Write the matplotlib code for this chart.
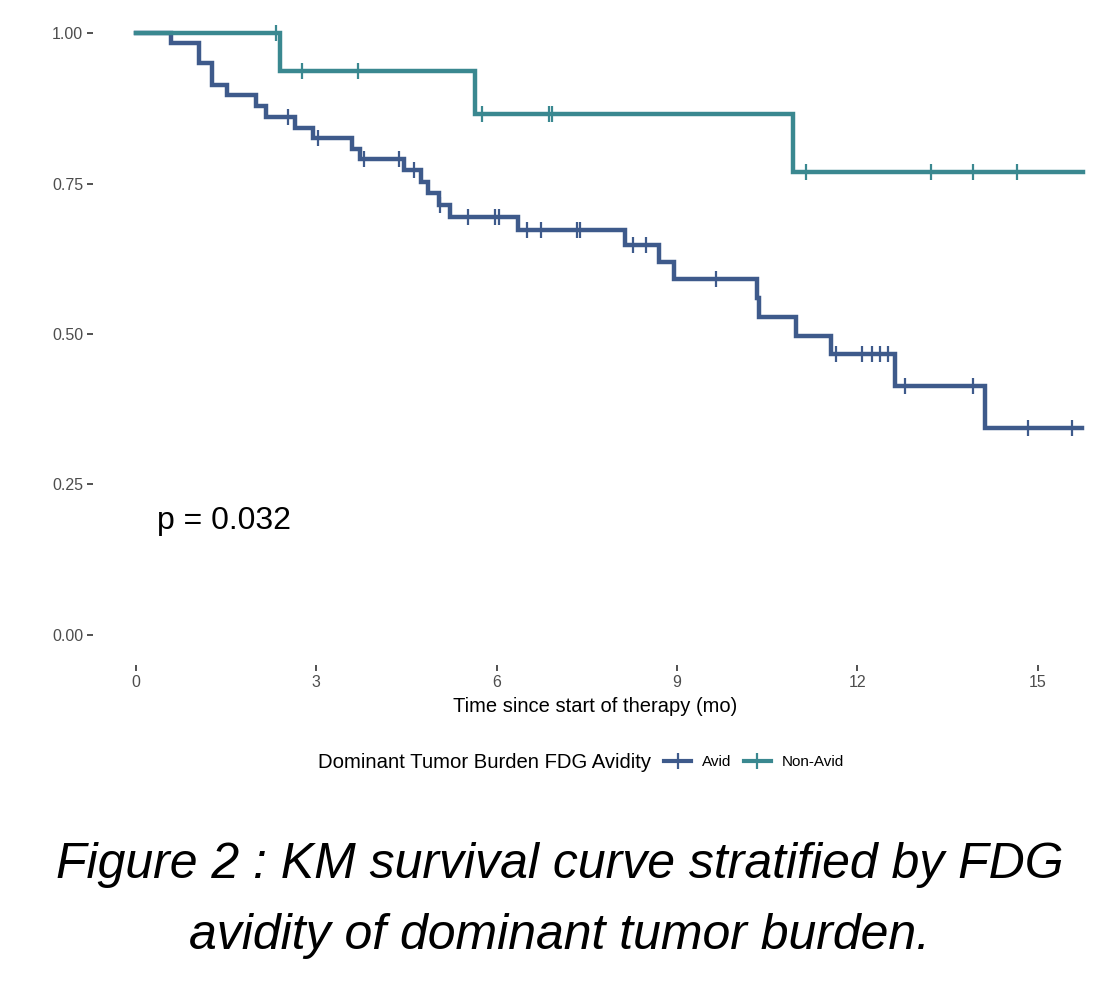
import numpy as np
import matplotlib.pyplot as plt
from matplotlib.lines import Line2D

plt.rcParams['font.family'] = ['Liberation Sans', 'DejaVu Sans']

# step curves: time of each drop (months) and survival after it
avid_t = [0, 0.59, 1.04, 1.26, 1.51, 2.00, 2.16, 2.64, 2.94, 3.60, 3.73, 4.46, 4.74,
          4.86, 5.04, 5.23, 6.36, 8.13, 8.70, 8.94, 10.33, 10.37, 10.97, 11.56, 12.62,
          14.12, 15.73]
avid_s = [1.0, 0.983, 0.950, 0.914, 0.897, 0.879, 0.861, 0.843, 0.826, 0.808, 0.791,
          0.772, 0.753, 0.734, 0.714, 0.694, 0.673, 0.648, 0.619, 0.591, 0.560, 0.529,
          0.497, 0.466, 0.414, 0.344, 0.344]
avid_cens = [2.53, 3.03, 3.80, 4.38, 4.63, 5.06, 5.53, 5.97, 6.03, 6.50, 6.74, 7.34,
             7.38, 8.27, 8.49, 9.65, 11.65, 12.07, 12.24, 12.37, 12.50, 12.79, 13.92,
             14.83, 15.56]

nonavid_t = [0, 2.40, 5.64, 10.93, 15.75]
nonavid_s = [1.0, 0.9375, 0.865, 0.769, 0.769]
nonavid_cens = [2.33, 2.76, 3.69, 5.75, 6.87, 6.92, 11.14, 13.22, 13.92, 14.65]

c_avid = '#3E5A8B'
c_non = '#3A8890'

fig = plt.figure(figsize=(10.98, 10), dpi=100)
ax = fig.add_axes([0.0847, 0.335, 0.9153, 0.662])

for t, s, cens, col in [(avid_t, avid_s, avid_cens, c_avid),
                        (nonavid_t, nonavid_s, nonavid_cens, c_non)]:
    ax.step(t, s, where='post', color=col, lw=3.2, solid_joinstyle='miter')
    idx = np.searchsorted(t, cens, side='right') - 1
    ax.plot(cens, np.array(s)[idx], ls='none', marker='|', ms=11, mew=1.6, color=col)

ax.set_xlim(-0.715, 16.0)
ax.set_ylim(-0.05, 1.05)
ax.set_xticks([0, 3, 6, 9, 12, 15])
ax.set_yticks([0, 0.25, 0.5, 0.75, 1.0])
ax.set_yticklabels(['0.00', '0.25', '0.50', '0.75', '1.00'])
for sp in ax.spines.values():
    sp.set_visible(False)
ax.tick_params(length=4, width=1.2, color='#333333', labelcolor='#4D4D4D',
               labelsize=11.5, pad=3)
ax.set_xlabel('Time since start of therapy (mo)', fontsize=14.5, labelpad=5)

ax.text(0.35, 0.19, 'p = 0.032', fontsize=23, va='center', ha='left')

# legend, title to the left of keys
fig.text(0.29, 0.238, 'Dominant Tumor Burden FDG Avidity', fontsize=14.6,
         ha='left', va='center')
handles = [Line2D([], [], color=c_avid, lw=3, marker='|', ms=11, mew=1.6),
           Line2D([], [], color=c_non, lw=3, marker='|', ms=11, mew=1.6)]
fig.legend(handles, ['Avid', 'Non-Avid'], loc='center left',
           bbox_to_anchor=(0.592, 0.238), ncol=2, frameon=False, fontsize=11,
           handlelength=1.8, handletextpad=0.7, columnspacing=0.8)

fig.text(0.51, 0.135, 'Figure 2 : KM survival curve stratified by FDG',
         fontsize=36, style='italic', ha='center', va='center')
fig.text(0.51, 0.064, 'avidity of dominant tumor burden.',
         fontsize=36, style='italic', ha='center', va='center')

fig.savefig('out.png', dpi=100)
